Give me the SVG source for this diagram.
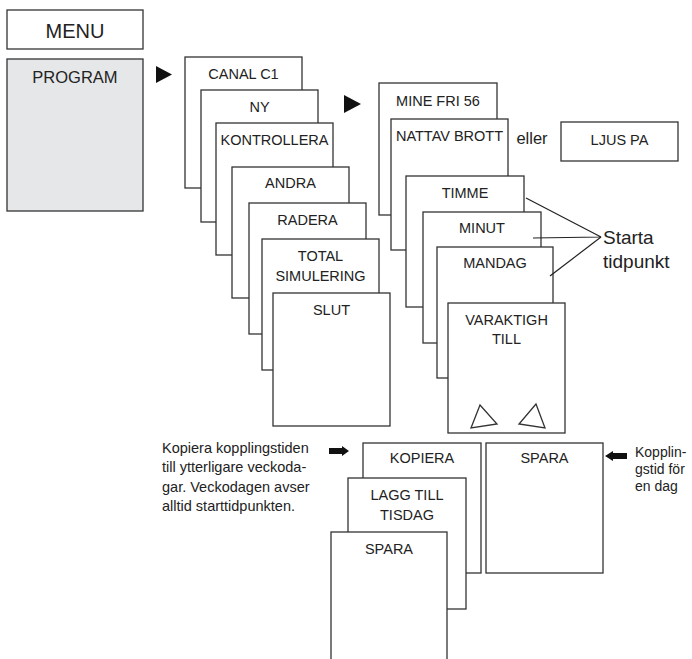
<svg xmlns="http://www.w3.org/2000/svg" width="692" height="659" viewBox="0 0 692 659">
<style>
.b{fill:#fff;stroke:#333;stroke-width:1.3}
.g{fill:#e6e7e9;stroke:#333;stroke-width:1.3}
.t{font-family:"Liberation Sans",Arial,sans-serif;font-size:14.5px;fill:#222;text-anchor:middle}
.n{font-family:"Liberation Sans",Arial,sans-serif;font-size:14.5px;fill:#222}
.l{fill:none;stroke:#222;stroke-width:1.2}
.f{fill:#111;stroke:none}
</style>
<rect width="692" height="659" fill="#fff"/>
<g id="menu"><rect class="b" x="7" y="10" width="136" height="39"/><text class="t" x="75" y="37.5" style="font-size:20px">MENU</text></g>
<g id="program"><rect class="g" x="7" y="59" width="136" height="152"/><text class="t" x="75" y="83" style="font-size:16.5px">PROGRAM</text></g>
<g id="canal"><rect class="b" x="185" y="57" width="117" height="131"/><text class="t" x="243.5" y="79">CANAL C1</text></g>
<g id="ny"><rect class="b" x="201" y="90" width="117" height="132"/><text class="t" x="259.5" y="112">NY</text></g>
<g id="kontrollera"><rect class="b" x="216" y="123" width="117" height="132"/><text class="t" x="274.5" y="145">KONTROLLERA</text></g>
<g id="andra"><rect class="b" x="232" y="167" width="117" height="131"/><text class="t" x="290.5" y="188">ANDRA</text></g>
<g id="radera"><rect class="b" x="249" y="203" width="117" height="131"/><text class="t" x="307.5" y="224.5">RADERA</text></g>
<g id="total"><rect class="b" x="262" y="239" width="117" height="131"/><text class="t" x="320.5" y="261">TOTAL</text><text class="t" x="320.5" y="281">SIMULERING</text></g>
<g id="slut"><rect class="b" x="273" y="293" width="117" height="133"/><text class="t" x="331.5" y="315">SLUT</text></g>
<g id="mine"><rect class="b" x="379" y="83" width="118" height="132"/><text class="t" x="438" y="106">MINE FRI 56</text></g>
<g id="nattav"><rect class="b" x="391" y="119" width="117" height="131"/><text class="t" x="449.5" y="141">NATTAV BROTT</text></g>
<g id="eller"><text class="t" x="532" y="144" style="font-size:16.5px">eller</text></g>
<g id="ljus"><rect class="b" x="561" y="122" width="117" height="39"/><text class="t" x="619.5" y="145">LJUS PA</text></g>
<g id="timme"><rect class="b" x="406" y="176" width="118" height="131"/><text class="t" x="465" y="198">TIMME</text></g>
<g id="minut"><rect class="b" x="423" y="212" width="118" height="131"/><text class="t" x="482" y="233">MINUT</text></g>
<g id="mandag"><rect class="b" x="437" y="247" width="116" height="131"/><text class="t" x="495" y="268">MANDAG</text></g>
<g id="varaktigh"><rect class="b" x="448" y="303" width="117" height="130"/><text class="t" x="506.5" y="324.5">VARAKTIGH</text><text class="t" x="506.5" y="344">TILL</text>
<polygon class="b" points="480,405 471,428 497,424"/><polygon class="b" points="536,404 519,424 545,428"/></g>
<g id="starta"><text class="n" x="603" y="244" style="font-size:19px">Starta</text><text class="n" x="603" y="268" style="font-size:19px">tidpunkt</text></g>
<g id="kopiera"><rect class="b" x="363" y="443" width="118" height="130"/><text class="t" x="422" y="463">KOPIERA</text></g>
<g id="lagg"><rect class="b" x="348" y="478" width="118" height="131"/><text class="t" x="407" y="500">LAGG TILL</text><text class="t" x="407" y="520">TISDAG</text></g>
<g id="spara1"><rect class="b" x="331" y="532" width="116" height="140"/><text class="t" x="389" y="553.5">SPARA</text></g>
<g id="spara2"><rect class="b" x="486" y="443" width="117" height="130"/><text class="t" x="544.5" y="463">SPARA</text></g>
<g id="note1"><text class="n" x="162" y="453">Kopiera kopplingstiden</text><text class="n" x="162" y="472">till ytterligare veckoda-</text><text class="n" x="162" y="491.5">gar. Veckodagen avser</text><text class="n" x="162" y="511">alltid starttidpunkten.</text></g>
<g id="note2"><text class="n" x="635" y="457" style="font-size:14px">Kopplin-</text><text class="n" x="635" y="474" style="font-size:14px">gstid för</text><text class="n" x="635" y="491" style="font-size:14px">en dag</text></g>
<g id="connectors">
<polygon class="f" points="156,66 172,74.5 156,83"/>
<polygon class="f" points="344,95 361,104 344,113"/>
<polyline class="l" points="526,198 601,237 533,238"/>
<line class="l" x1="601" y1="237" x2="550" y2="276"/>
<polygon class="f" points="329,448 342,448 342,446 349,451 342,456 342,454 329,454"/>
<polygon class="f" points="627,453 613,453 613,451 605,456 613,461 613,459 627,459"/>
</g>
</svg>
